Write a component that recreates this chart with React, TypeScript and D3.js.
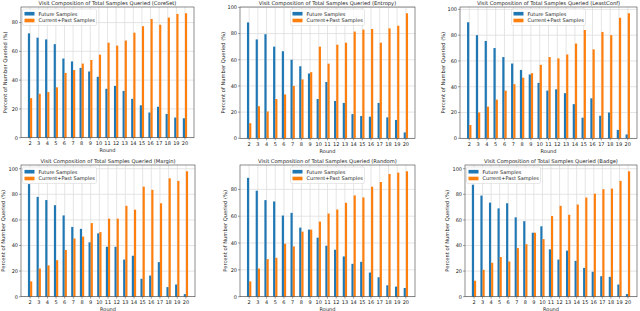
import * as d3 from 'd3';

const rounds = ['2', '3', '4', '5', '6', '7', '8', '9', '10', '11', '12', '13', '14', '15', '16', '17', '18', '19', '20'];
const seriesNames = ['Future Samples', 'Current+Past Samples'];
const colors = ['#1f77b4', '#ff7f0e'];

const coresetFuture = [72.5, 69.5, 68.3, 65, 55, 53, 48.5, 46, 42.3, 34, 36, 32.5, 27, 22.5, 17.5, 21.5, 16.5, 14, 13.5];
const coresetPast = [27.5, 30.5, 31.7, 35, 45, 47, 51.5, 54, 57.7, 66, 64, 67.5, 73, 77.5, 82.5, 78.5, 83.5, 86, 86.5];

const entropyFuture = [88.5, 75.5, 79.5, 70, 66.5, 60, 55, 49.5, 30, 43, 28.5, 27, 18.5, 17, 16.5, 27, 16, 14, 4.5];
const entropyPast = [11.5, 24.5, 20.5, 30, 33.5, 40, 45, 50.5, 70, 57, 71.5, 73, 81.5, 83, 83.5, 73, 84, 86, 95.5];

const leastConfFuture = [90, 80, 75.5, 70, 63, 58, 53, 49.5, 43, 37, 38, 35, 26.5, 16, 31, 17.5, 20, 6.5, 3];
const leastConfPast = [10.3, 20, 24.5, 30, 37, 42, 47, 50.5, 57, 63, 62, 65, 73.5, 84, 69, 82.5, 80, 93.5, 97];

const marginFuture = [88, 78, 75.5, 71.5, 63.5, 54.5, 53, 42.5, 49.5, 39, 39, 29, 32, 14, 16.5, 27, 7.5, 9.5, 2];
const marginPast = [12, 22, 24.5, 28.5, 36.5, 45.5, 47, 57.5, 50.5, 61, 61, 71, 68, 86, 83.5, 73, 92.5, 90.5, 98];

const randomFuture = [88.6, 79, 72, 71, 60.5, 62.5, 51.5, 50, 44, 38, 35, 30, 24.5, 26, 18, 14.5, 8.5, 7.5, 6.5];
const randomPast = [11.4, 21, 28, 29, 39.5, 37.5, 48.5, 50, 56, 62, 65, 70, 75.5, 74, 82, 85.5, 91.5, 92.5, 93.5];

const badgeFuture = [87.5, 79, 73.5, 69, 73, 62, 59, 50, 55, 37, 29, 36, 28, 22.5, 19.5, 16, 15.5, 9.5, 2];
const badgePast = [12.5, 21, 26.5, 31, 27.5, 38, 41, 50, 45, 63, 71, 64, 72, 77.5, 80.5, 84, 84.5, 90.5, 98];

const panels = [
  { name: 'CoreSet', future: coresetFuture, past: coresetPast },
  { name: 'Entropy', future: entropyFuture, past: entropyPast },
  { name: 'LeastConf', future: leastConfFuture, past: leastConfPast },
  { name: 'Margin', future: marginFuture, past: marginPast },
  { name: 'Random', future: randomFuture, past: randomPast },
  { name: 'Badge', future: badgeFuture, past: badgePast },
];

// pixel frames of each subplot
const frames = [
  { left: 21, right: 194, top: 7, bottom: 137.7, ylabelX: 5, legend: 'left' },
  { left: 240, right: 415, top: 7, bottom: 138.3, ylabelX: 223, legend: 'center' },
  { left: 460, right: 637, top: 7, bottom: 138.3, ylabelX: 443, legend: 'center' },
  { left: 21, right: 195, top: 165, bottom: 296.7, ylabelX: 3, legend: 'left' },
  { left: 240, right: 415, top: 165, bottom: 296.7, ylabelX: 225, legend: 'center' },
  { left: 465, right: 637, top: 165, bottom: 296.7, ylabelX: 447, legend: 'left' },
];

const font = 'DejaVu Sans';
const barW = 0.25;

function Panel({ panel, frame }: { panel: typeof panels[0]; frame: typeof frames[0] }) {
  const maxV = d3.max([...panel.future, ...panel.past]) ?? 100;
  const x = d3.scaleLinear().domain([-1.05, rounds.length - 1 + 1.05]).range([frame.left, frame.right]);
  const y = d3.scaleLinear().domain([0, maxV * 1.05]).range([frame.bottom, frame.top]);
  const yTicks = y.ticks(5);
  const cx = (frame.left + frame.right) / 2;
  const cy = (frame.top + frame.bottom) / 2;
  const legW = 74;
  const legX = frame.legend === 'left' ? frame.left + 1.5 : cx - legW / 2;
  const legY = frame.top + 2;

  return (
    <g>
      {yTicks.map((t) => (
        <line key={'gy' + t} x1={frame.left} x2={frame.right} y1={y(t)} y2={y(t)} stroke="#dedede" strokeWidth={0.8} />
      ))}
      {rounds.map((r, i) => (
        <line key={'gx' + r} x1={x(i)} x2={x(i)} y1={frame.top} y2={frame.bottom} stroke="#dedede" strokeWidth={0.8} />
      ))}
      {[panel.future, panel.past].map((vals, s) =>
        vals.map((v, i) => (
          <rect
            key={s + '-' + i}
            x={x(i + (s === 0 ? -barW : 0))}
            width={x(barW) - x(0)}
            y={y(v)}
            height={y(0) - y(v)}
            fill={colors[s]}
          />
        ))
      )}
      <rect
        x={frame.left}
        y={frame.top}
        width={frame.right - frame.left}
        height={frame.bottom - frame.top}
        fill="none"
        stroke="#444"
        strokeWidth={0.6}
      />
      {yTicks.map((t) => (
        <g key={'ty' + t}>
          <line x1={frame.left - 2} x2={frame.left} y1={y(t)} y2={y(t)} stroke="#444" strokeWidth={0.5} />
          <text x={frame.left - 3} y={y(t) + 1.8} textAnchor="end" fontSize={5} fontFamily={font} fill="#222">
            {t}
          </text>
        </g>
      ))}
      {rounds.map((r, i) => (
        <g key={'tx' + r}>
          <line x1={x(i)} x2={x(i)} y1={frame.bottom} y2={frame.bottom + 2} stroke="#444" strokeWidth={0.5} />
          <text x={x(i)} y={frame.bottom + 7.5} textAnchor="middle" fontSize={5} fontFamily={font} fill="#222">
            {r}
          </text>
        </g>
      ))}
      <text x={cx} y={frame.bottom + 14.3} textAnchor="middle" fontSize={5} fontFamily={font} fill="#222">
        Round
      </text>
      <text
        transform={`translate(${frame.ylabelX + 1.8},${cy}) rotate(-90)`}
        textAnchor="middle"
        fontSize={5.2}
        fontFamily={font}
        fill="#222"
      >
        Percent of Number Queried (%)
      </text>
      <text x={cx} y={frame.top - 2.5} textAnchor="middle" fontSize={5.2} fontFamily={font} fill="#222">
        {`Visit Composition of Total Samples Queried (${panel.name})`}
      </text>
      <g transform={`translate(${legX},${legY})`}>
        <rect width={legW} height={16.5} rx={1.5} fill="white" fillOpacity={0.8} stroke="#d0d0d0" strokeWidth={0.5} />
        {seriesNames.map((s, k) => (
          <g key={s} transform={`translate(0,${4.7 + k * 6.8})`}>
            <rect x={2} y={-1.8} width={10} height={3.6} fill={colors[k]} />
            <text x={16} y={1.8} fontSize={5} fontFamily={font} fill="#222">
              {s}
            </text>
          </g>
        ))}
      </g>
    </g>
  );
}

export default function App() {
  return (
    <svg width={640} height={311} style={{ position: 'absolute', left: 0, top: 0, background: 'white' }}>
      <rect width={640} height={311} fill="white" />
      {panels.map((p, i) => (
        <Panel key={p.name} panel={p} frame={frames[i]} />
      ))}
    </svg>
  );
}
